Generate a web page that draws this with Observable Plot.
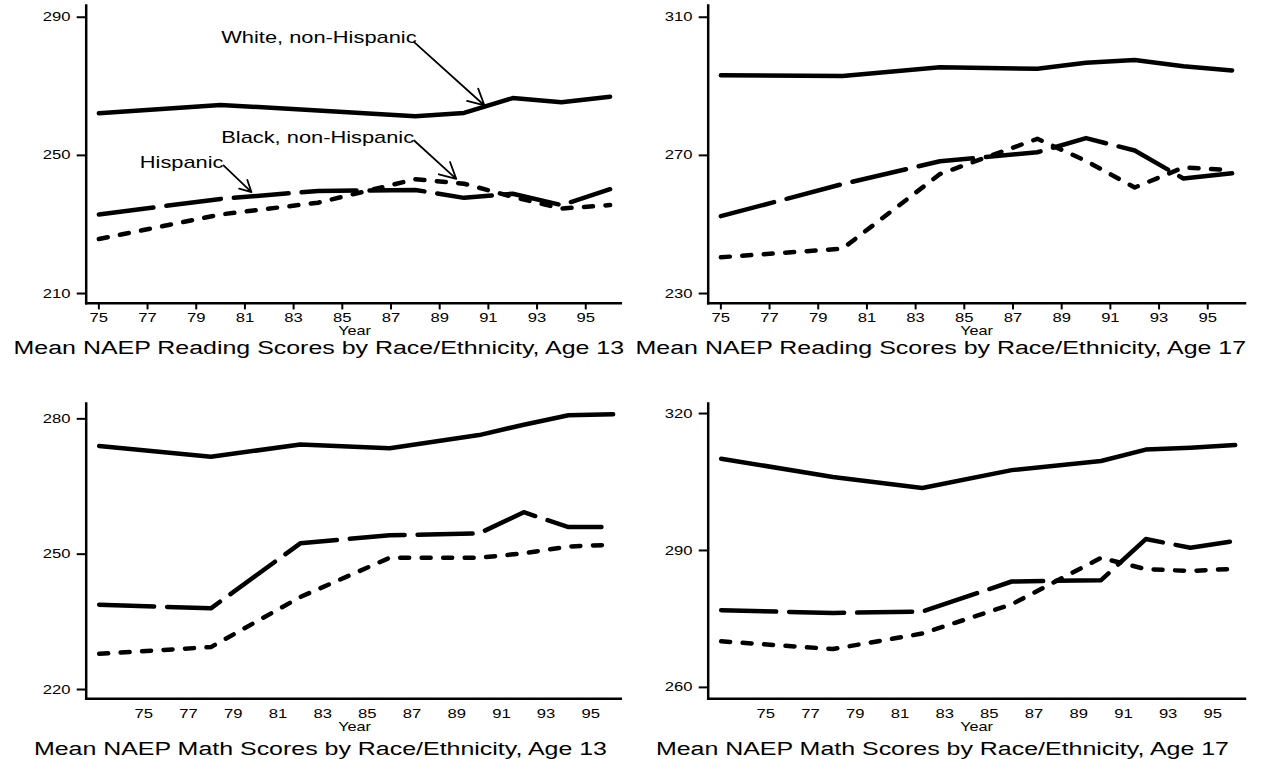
<!DOCTYPE html>
<html><head><meta charset="utf-8">
<script src="https://cdn.jsdelivr.net/npm/d3@7"></script>
<script src="https://cdn.jsdelivr.net/npm/@observablehq/plot@0.6"></script>
<style>
body{margin:0;background:#fff;}
#root{position:relative;width:1263px;height:759px;font-family:"Liberation Sans",Arial,sans-serif;color:#000;overflow:hidden;background:#fff}
.panel{position:absolute;width:631px}
.panel svg{display:block;overflow:visible}
.title{height:22px;line-height:22px;font-size:19.2px;text-align:center;white-space:nowrap;box-sizing:border-box}
.title span{display:inline-block;transform:scaleX(1.3);transform-origin:center}
</style></head><body><div id="root"></div>
<script>
// ---- data ----
const readingYears = [75, 80, 84, 88, 90, 92, 94, 96];
const mathYears = [73, 78, 82, 86, 90, 92, 94, 96];

const readWhite13 = [262.2, 264.6, 263.0, 261.3, 262.3, 266.6, 265.4, 267.0];
const readBlack13 = [225.8, 232.9, 236.3, 243.1, 241.8, 238.0, 234.6, 235.6];
const readHisp13  = [232.9, 237.4, 239.7, 240.0, 237.7, 238.9, 235.6, 240.2];

const readWhite17 = [293.2, 293.0, 295.5, 295.1, 296.8, 297.6, 295.8, 294.6];
const readBlack17 = [240.5, 243.0, 264.6, 274.8, 268.4, 260.7, 266.5, 265.7];
const readHisp17  = [252.4, 261.7, 268.3, 270.9, 275.0, 271.4, 263.3, 264.8];

const mathWhite13 = [274.0, 271.6, 274.3, 273.5, 276.4, 278.7, 280.8, 281.0];
const mathBlack13 = [227.9, 229.4, 240.5, 249.2, 249.2, 250.2, 251.7, 252.1];
const mathHisp13  = [238.8, 238.0, 252.4, 254.2, 254.6, 259.3, 256.0, 256.0];

const mathWhite17 = [310.1, 306.1, 303.7, 307.6, 309.6, 312.1, 312.5, 313.1];
const mathBlack17 = [270.1, 268.4, 271.8, 278.2, 288.4, 285.9, 285.5, 286.0];
const mathHisp17  = [276.9, 276.3, 276.6, 283.2, 283.5, 292.5, 290.6, 292.1];

const xTicks = [75, 77, 79, 81, 83, 85, 87, 89, 91, 93, 95];
const yTicksRead13 = [210, 250, 290];
const yTicksRead17 = [230, 270, 310];
const yTicksMath13 = [220, 250, 280];
const yTicksMath17 = [260, 290, 320];

const titles = [
  "Mean NAEP Reading Scores by Race/Ethnicity, Age 13",
  "Mean NAEP Reading Scores by Race/Ethnicity, Age 17",
  "Mean NAEP Math Scores by Race/Ethnicity, Age 13",
  "Mean NAEP Math Scores by Race/Ethnicity, Age 17"
];
const xLabel = "Year";

// annotations (reading, age 13)
const noteLabels = ["White, non-Hispanic", "Black, non-Hispanic", "Hispanic"];
const noteTextX = [88.05, 87.95, 80.12];
const noteTextY = [284.06, 255.27, 248.03];
const noteArrowX1 = [87.95, 87.95, 80.12];
const noteArrowY1 = [282.8, 254.3, 247.1];
const noteArrowX2 = [90.84, 89.68, 81.27];
const noteArrowY2 = [264.45, 243.2, 239.35];

// ---- helpers ----
const STRETCH = 1.3;
function stretchText(svg) {
  svg.querySelectorAll("text").forEach(t => {
    let tr = t.getAttribute("transform") || "";
    const x = t.getAttribute("x");
    if (x != null && x !== "" && !isNaN(+x)) { tr += ` translate(${+x},0)`; t.removeAttribute("x"); }
    t.setAttribute("transform", `${tr} scale(${STRETCH},1)`);
  });
}

function panel(cfg) {
  const notes = cfg.notes ? noteLabels.map((label, i) => ({
    label, tx: noteTextX[i], ty: noteTextY[i],
    x1: noteArrowX1[i], y1: noteArrowY1[i], x2: noteArrowX2[i], y2: noteArrowY2[i]
  })) : [];
  const lineBase = {x: d => d, stroke: "black", strokeWidth: 4.5, strokeLinecap: "round", strokeLinejoin: "round"};
  const marks = [
    Plot.line(cfg.years, {...lineBase, y: cfg.white}),
    Plot.line(cfg.years, {...lineBase, y: cfg.hisp, strokeDasharray: "55,13"}),
    Plot.line(cfg.years, {...lineBase, y: cfg.black, strokeDasharray: "9,12.5"}),
    Plot.axisY({ticks: cfg.yTicks, tickSize: 9, tickPadding: 6.7, strokeWidth: 2, fontSize: 12.8, label: null}),
    Plot.axisX({ticks: xTicks, tickSize: cfg.xTickSize, tickPadding: cfg.xTickPadding, strokeWidth: 2, fontSize: 12.8, label: null, tickFormat: d => String(d)}),
    Plot.frame({anchor: "left", strokeWidth: 2.5, stroke: "black"}),
    Plot.frame({anchor: "bottom", strokeWidth: 2.5, stroke: "black"}),
    Plot.text([xLabel], {text: d => d, frameAnchor: "bottom", dy: cfg.yearDy, fontSize: 12.5, lineAnchor: "middle"})
  ];
  if (notes.length) {
    marks.push(Plot.arrow(notes, {x1: "x1", y1: "y1", x2: "x2", y2: "y2", headLength: 15, headAngle: 55, strokeWidth: 1.8, stroke: "black"}));
    marks.push(Plot.text(notes, {x: "tx", y: "ty", text: "label", textAnchor: "end", lineAnchor: "middle", fontSize: 16.8}));
  }
  const svg = Plot.plot({
    width: 631,
    height: cfg.height,
    marginLeft: 85.7,
    marginRight: 8.5,
    marginTop: cfg.marginTop,
    marginBottom: cfg.marginBottom,
    style: {fontFamily: '"Liberation Sans", Arial, sans-serif', color: "black", background: "white", overflow: "visible"},
    x: {domain: cfg.xDomain},
    y: {domain: cfg.yDomain},
    marks
  });
  stretchText(svg);
  const div = document.createElement("div");
  div.className = "panel";
  div.style.left = cfg.left + "px";
  div.style.top = cfg.top + "px";
  div.appendChild(svg);
  const t = document.createElement("div");
  t.className = "title";
  t.style.paddingLeft = cfg.titlePad + "px";
  const s = document.createElement("span");
  s.textContent = cfg.title;
  t.appendChild(s);
  div.appendChild(t);
  document.getElementById("root").appendChild(div);
}

const topCommon = {years: readingYears, xDomain: [74.48, 96.53], height: 337, marginTop: 5, marginBottom: 34.3, xTickSize: 6.7, xTickPadding: 3.4, yearDy: 27.6, top: 0, titlePad: 7};
const botCommon = {years: mathYears, xDomain: [72.42, 96.44], height: 368, marginTop: 33, marginBottom: 39.7, xTickSize: 0, xTickPadding: 9.9, yearDy: 28.6, top: 370, titlePad: 10};

panel({...topCommon, left: 0, white: readWhite13, black: readBlack13, hisp: readHisp13, yTicks: yTicksRead13, yDomain: [207.2, 293.4], title: titles[0], notes: true});
panel({...topCommon, left: 622, white: readWhite17, black: readBlack17, hisp: readHisp17, yTicks: yTicksRead17, yDomain: [227.2, 313.4], title: titles[1]});
panel({...botCommon, left: 0, white: mathWhite13, black: mathBlack13, hisp: mathHisp13, yTicks: yTicksMath13, yDomain: [217.94, 283.4], title: titles[2]});
panel({...botCommon, left: 622, white: mathWhite17, black: mathBlack17, hisp: mathHisp17, yTicks: yTicksMath17, yDomain: [257.5, 322.2], title: titles[3]});
</script></body></html>
